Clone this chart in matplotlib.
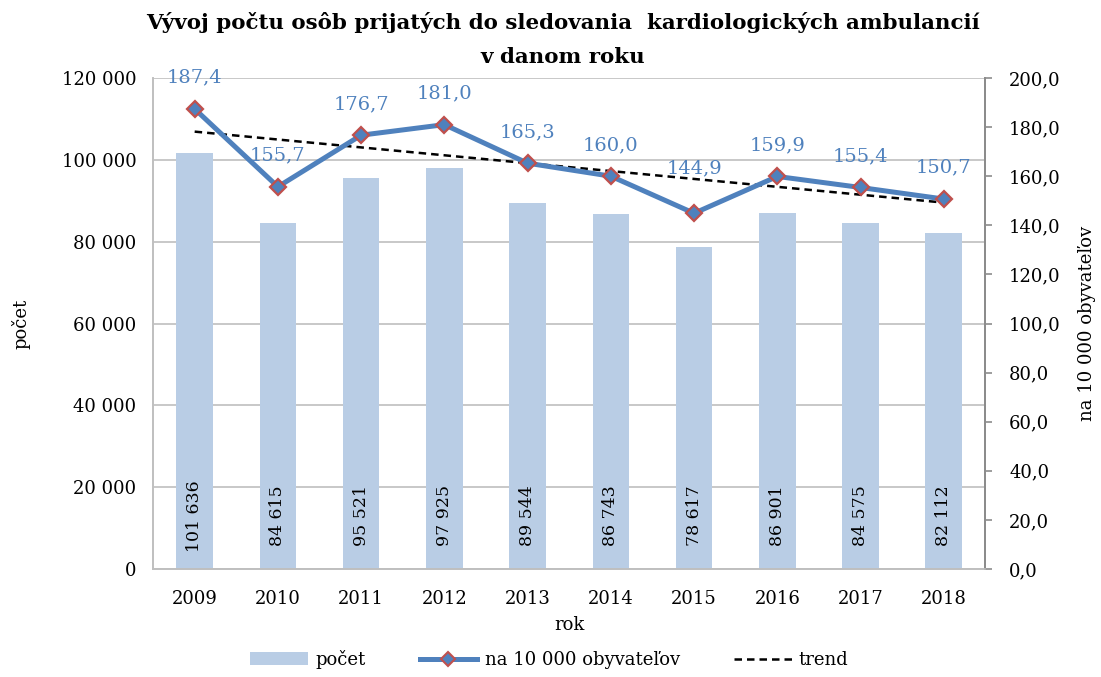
import numpy as np
import matplotlib
matplotlib.use('Agg')
import matplotlib.pyplot as plt
from matplotlib.lines import Line2D
from matplotlib.patches import Patch


# Data.
years = ['2009', '2010', '2011', '2012', '2013', '2014', '2015', '2016', '2017', '2018']
counts = [101636, 84615, 95521, 97925, 89544, 86743, 78617, 86901, 84575, 82112]
rates = [187.4, 155.7, 176.7, 181.0, 165.3, 160.0, 144.9, 159.9, 155.4, 150.7]
#-----------------------------

plt.rcParams['font.family'] = ['DejaVu Serif']
plt.rcParams['font.size'] = 13

barColor = '#B9CDE5'
lineColor = '#4F81BD'
edgeColor = '#C0504D'
gridColor = '#BFBFBF'
spineColor = '#8C8C8C'


def spaced(v):
	return format(int(v), ',').replace(',', ' ')


def comma(v, _=None):
	return ('%.1f' % v).replace('.', ',')


fig = plt.figure(figsize=(11.01, 6.77), dpi=100)
ax = fig.add_axes([0.139, 0.1595, 0.756, 0.7253])
ax2 = ax.twinx()

x = np.arange(len(years))

# Bars with the count written inside, rotated.
ax.set_axisbelow(True)
ax.bar(x, counts, width=0.44, color=barColor, zorder=2)
for xi, c in zip(x, counts):
	ax.text(xi, 13000, spaced(c), rotation=90, ha='center', va='center', fontsize=12.5, zorder=3)

ax.set_ylim(0, 120000)
ax.set_yticks(np.arange(0, 120001, 20000))
ax.set_yticklabels([spaced(v) for v in np.arange(0, 120001, 20000)])
ax.yaxis.grid(True, color=gridColor, linewidth=1.2)
ax.set_xlim(-0.5, len(years) - 0.5)
ax.set_xticks(x)
ax.set_xticklabels(years)
ax.tick_params(axis='x', length=0, pad=15)
ax.tick_params(axis='y', length=0, pad=12)
ax.set_xlabel('rok', labelpad=6)
ax.set_ylabel('počet')
ax.yaxis.set_label_coords(-0.147, 0.5)

# Rate line with a linear trend.
trendFit = np.polyfit(x, rates, 1)
trend = np.polyval(trendFit, x)

ax2.plot(x, trend, color='black', linestyle=(0, (3, 2)), linewidth=1.8, zorder=3)
ax2.plot(x, rates, color=lineColor, linewidth=3.6, marker='D', markersize=8,
		markerfacecolor=lineColor, markeredgecolor=edgeColor, markeredgewidth=1.6, zorder=4)
for xi, r in zip(x, rates):
	# the lowest label sits a bit higher so it clears the trend line
	off = 26 if r == min(rates) else 16
	ax2.annotate(comma(r), (xi, r), xytext=(0, off), textcoords='offset points',
			ha='center', va='bottom', color=lineColor, fontsize=14)

ax2.set_ylim(0, 200)
ax2.set_yticks(np.arange(0, 201, 20))
ax2.yaxis.set_major_formatter(comma)
ax2.tick_params(axis='y', length=5, color=spineColor, width=1.2, pad=12)
ax2.set_ylabel('na 10 000 obyvateľov')
ax2.yaxis.set_label_coords(1.111, 0.5)

for a in (ax, ax2):
	a.spines['top'].set_visible(False)
	a.spines['left'].set_color(gridColor)
	a.spines['bottom'].set_color(gridColor)
	a.spines['right'].set_color(spineColor)
	a.spines['left'].set_linewidth(1.2)
	a.spines['bottom'].set_linewidth(1.2)
	a.spines['right'].set_linewidth(1.4)

fig.text(0.511, 0.9675, 'Vývoj počtu osôb prijatých do sledovania  kardiologických ambulancií',
		ha='center', va='center', fontsize=15.4, fontweight='bold')
fig.text(0.511, 0.9158, 'v danom roku', ha='center', va='center', fontsize=15.4, fontweight='bold')

handles = [
	Patch(facecolor=barColor, edgecolor='none'),
	Line2D([], [], color=lineColor, linewidth=3.6, marker='D', markersize=7,
		markerfacecolor=lineColor, markeredgecolor=edgeColor, markeredgewidth=1.5),
	Line2D([], [], color='black', linestyle=(0, (3, 2)), linewidth=1.8),
]
fig.legend(handles, ['počet', 'na 10 000 obyvateľov', 'trend'], loc='lower center',
		bbox_to_anchor=(0.499, -0.012), ncol=3, frameon=False, handlelength=3.2,
		handleheight=0.7, columnspacing=3.0, handletextpad=0.4)

fig.savefig('out.png', dpi=100)
